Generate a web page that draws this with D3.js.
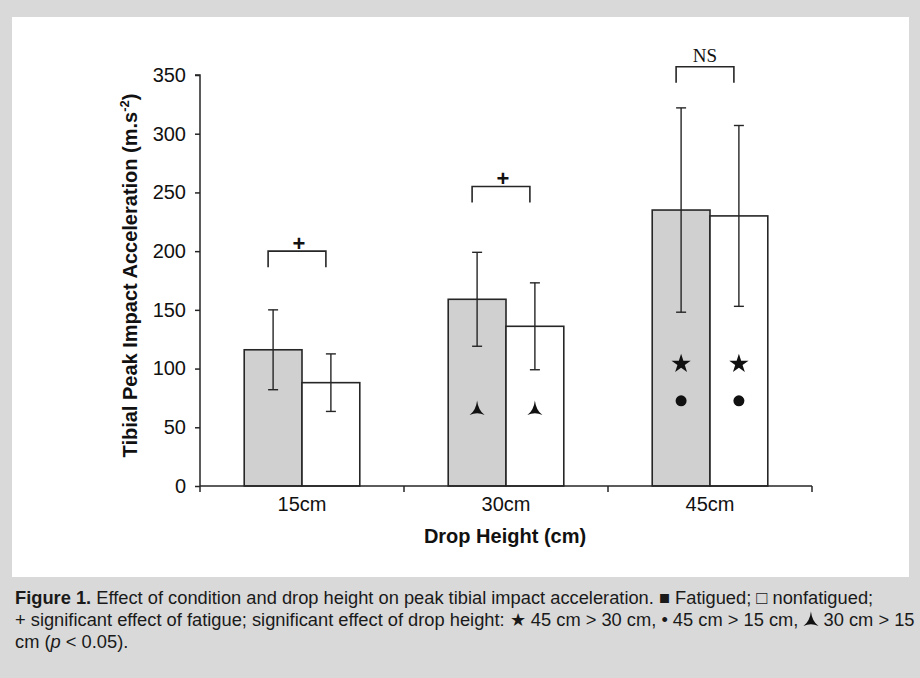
<!DOCTYPE html>
<html>
<head>
<meta charset="utf-8">
<script src="https://cdn.jsdelivr.net/npm/d3@7"></script>
<style>
  html, body { margin: 0; padding: 0; background: #d9d9d9; }
  svg { display: block; }
</style>
</head>
<body>
<svg id="chart" width="920" height="678"></svg>
<script>
// ---- data ----
const categories = ["15cm", "30cm", "45cm"];
const conditions = ["Fatigued", "Nonfatigued"];
const fatiguedMeans = [116, 159, 235];
const fatiguedSD = [34, 40, 87];
const nonfatiguedMeans = [88, 136, 230];
const nonfatiguedSD = [24.5, 37, 77];
const yTicks = [0, 50, 100, 150, 200, 250, 300, 350];
const bracketLabels = ["+", "+", "NS"];
const bracketValues = [200, 255, 357];
// significance markers inside bars: [category, symbol, value]
const markerCategories = ["30cm", "45cm", "45cm"];
const markerSymbols = ["wye", "star", "dot"];
const markerValues = [66, 104, 72.5];

const xTitle = "Drop Height (cm)";
const yTitle = "Tibial Peak Impact Acceleration (m.s";
const captionLine1a = "Figure 1.";
const captionLine1b = "Effect of condition and drop height on peak tibial impact acceleration. \u25A0 Fatigued; \u25A1 nonfatigued;";
const captionLine2a = "+ significant effect of fatigue; significant effect of drop height: \u2605 45 cm > 30 cm, \u2022 45 cm > 15 cm,";
const captionLine2b = "30 cm > 15";
const captionLine3 = ["cm (", "p", " < 0.05)."];

// ---- layout ----
const svg = d3.select("#chart");
const FONT = "'Liberation Sans', Arial, Helvetica, sans-serif";
const pLeft = 200, pRight = 812, pTop = 75, pBottom = 486;

svg.append("rect").attr("x", 0).attr("y", 0).attr("width", 920).attr("height", 678).attr("fill", "#d9d9d9");
svg.append("rect").attr("x", 12).attr("y", 17).attr("width", 897).attr("height", 560).attr("fill", "#ffffff");

const x0 = d3.scaleBand().domain(categories).range([pLeft, pRight]).paddingInner(0).paddingOuter(0);
const x1 = d3.scaleBand().domain(conditions).range([0, x0.bandwidth()]).paddingInner(0).paddingOuter(0.765);
const y = d3.scaleLinear().domain([0, 350]).range([pBottom, pTop]);

const rows = categories.map((c, i) => ({
  cat: c,
  vals: [
    { cond: "Fatigued", mean: fatiguedMeans[i], sd: fatiguedSD[i] },
    { cond: "Nonfatigued", mean: nonfatiguedMeans[i], sd: nonfatiguedSD[i] }
  ]
}));
const fillColor = { Fatigued: "#d0d0d0", Nonfatigued: "#ffffff" };
const stroke = "#262626";

const g = svg.append("g");
const groups = g.selectAll("g.grp").data(rows).join("g")
  .attr("class", "grp")
  .attr("transform", d => `translate(${x0(d.cat)},0)`);

groups.selectAll("rect").data(d => d.vals).join("rect")
  .attr("x", d => x1(d.cond))
  .attr("y", d => y(d.mean))
  .attr("width", x1.bandwidth())
  .attr("height", d => y(0) - y(d.mean))
  .attr("fill", d => fillColor[d.cond])
  .attr("stroke", stroke)
  .attr("stroke-width", 1.6);

// error bars
const cap = 5;
const eb = groups.selectAll("g.eb").data(d => d.vals).join("g").attr("class", "eb");
eb.append("line")
  .attr("x1", d => x1(d.cond) + x1.bandwidth() / 2)
  .attr("x2", d => x1(d.cond) + x1.bandwidth() / 2)
  .attr("y1", d => y(d.mean + d.sd))
  .attr("y2", d => y(d.mean - d.sd))
  .attr("stroke", stroke).attr("stroke-width", 1.4);
eb.append("line")
  .attr("x1", d => x1(d.cond) + x1.bandwidth() / 2 - cap)
  .attr("x2", d => x1(d.cond) + x1.bandwidth() / 2 + cap)
  .attr("y1", d => y(d.mean + d.sd)).attr("y2", d => y(d.mean + d.sd))
  .attr("stroke", stroke).attr("stroke-width", 1.4);
eb.append("line")
  .attr("x1", d => x1(d.cond) + x1.bandwidth() / 2 - cap)
  .attr("x2", d => x1(d.cond) + x1.bandwidth() / 2 + cap)
  .attr("y1", d => y(d.mean - d.sd)).attr("y2", d => y(d.mean - d.sd))
  .attr("stroke", stroke).attr("stroke-width", 1.4);

// markers
const wyePath = "M0,-8 Q1.2,2 7.5,6.5 Q0,3.2 -7.5,6.5 Q-1.2,2 0,-8 Z";
markerCategories.forEach((c, i) => {
  conditions.forEach(cond => {
    const cx = x0(c) + x1(cond) + x1.bandwidth() / 2;
    const cy = y(markerValues[i]);
    const s = markerSymbols[i];
    if (s === "wye") {
      g.append("path").attr("d", wyePath).attr("transform", `translate(${cx},${cy})`).attr("fill", "#111");
    } else if (s === "star") {
      g.append("path").attr("d", d3.symbol(d3.symbolStar, 115)()).attr("transform", `translate(${cx},${cy})`).attr("fill", "#111");
    } else {
      g.append("circle").attr("cx", cx).attr("cy", cy).attr("r", 5.5).attr("fill", "#111");
    }
  });
});

// brackets
categories.forEach((c, i) => {
  const bxa = x0(c) + x1("Fatigued") + x1.bandwidth() / 2 - 5;
  const bxb = x0(c) + x1("Nonfatigued") + x1.bandwidth() / 2 - 5;
  const byt = y(bracketValues[i]);
  g.append("path")
    .attr("d", `M${bxa},${byt + 16} L${bxa},${byt} L${bxb},${byt} L${bxb},${byt + 16}`)
    .attr("fill", "none").attr("stroke", stroke).attr("stroke-width", 1.6);
  const isNS = bracketLabels[i] === "NS";
  g.append("text")
    .attr("x", (bxa + bxb) / 2 + (isNS ? 0 : 2))
    .attr("y", isNS ? byt - 5 : byt - 0.5)
    .attr("text-anchor", "middle")
    .attr("font-family", isNS ? "'Liberation Serif', 'Times New Roman', serif" : FONT)
    .attr("font-size", isNS ? 19 : 22)
    .attr("font-weight", isNS ? "normal" : "bold")
    .attr("fill", "#111")
    .text(bracketLabels[i]);
});

// axes
const yAxis = d3.axisLeft(y).tickValues(yTicks).tickSize(5).tickPadding(9).tickFormat(d3.format("d"));
const yAxG = svg.append("g").attr("transform", `translate(${pLeft},0)`).call(yAxis);
yAxG.select(".domain").attr("d", `M-5,${pTop}H0V${pBottom}`).attr("stroke", stroke).attr("stroke-width", 1.5);
yAxG.selectAll(".tick line").attr("stroke", stroke).attr("stroke-width", 1.5);
yAxG.selectAll(".tick text").attr("font-family", FONT).attr("font-size", 20).attr("fill", "#111");

const xAxis = d3.axisBottom(x0).tickSize(0).tickPadding(11);
const xAxG = svg.append("g").attr("transform", `translate(0,${pBottom})`).call(xAxis);
xAxG.select(".domain").attr("stroke", stroke).attr("stroke-width", 1.5).attr("d", `M${pLeft},0H${pRight}`);
xAxG.selectAll(".tick text").attr("font-family", FONT).attr("font-size", 20).attr("fill", "#111");
// boundary ticks between categories
const boundaries = categories.map(c => x0(c)).concat([x0.range()[1]]);
xAxG.selectAll("line.bt").data(boundaries).join("line").attr("class", "bt")
  .attr("x1", d => d).attr("x2", d => d).attr("y1", 0).attr("y2", 6)
  .attr("stroke", stroke).attr("stroke-width", 1.5);

// axis titles
svg.append("text")
  .attr("x", (pLeft + pRight) / 2 - 1).attr("y", 543)
  .attr("text-anchor", "middle").attr("font-family", FONT).attr("font-size", 20).attr("font-weight", "bold").attr("fill", "#111")
  .text(xTitle);

const yTitleText = svg.append("text")
  .attr("transform", `translate(137,${(pTop + pBottom) / 2 - 5}) rotate(-90)`)
  .attr("text-anchor", "middle").attr("font-family", FONT).attr("font-size", 20).attr("font-weight", "bold").attr("fill", "#111");
yTitleText.append("tspan").text(yTitle);
yTitleText.append("tspan").attr("font-size", 13).attr("dy", -8).text("-2");
yTitleText.append("tspan").attr("dy", 8).text(")");

// caption
const capSize = 18.3;
const c1 = svg.append("text").attr("x", 15).attr("y", 604).attr("font-family", FONT).attr("font-size", capSize).attr("fill", "#1a1a1a")
  .attr("xml:space", "preserve").style("white-space", "pre");
c1.append("tspan").attr("font-weight", "bold").text(captionLine1a);
c1.append("tspan").text(" " + captionLine1b);

const c2a = svg.append("text").attr("x", 15).attr("y", 626).attr("font-family", FONT).attr("font-size", capSize).attr("fill", "#1a1a1a").text(captionLine2a);
const w2 = c2a.node().getComputedTextLength();
const spaceW = capSize * 0.278;
const wyeCx = 15 + w2 + spaceW + 7.5;
svg.append("path").attr("d", wyePath).attr("fill", "#111")
  .attr("transform", `translate(${wyeCx},${626 - 6.5})`);
svg.append("text").attr("x", wyeCx + 7.5 + spaceW).attr("y", 626).attr("font-family", FONT).attr("font-size", capSize).attr("fill", "#1a1a1a").text(captionLine2b);

const c3 = svg.append("text").attr("x", 15).attr("y", 648).attr("font-family", FONT).attr("font-size", capSize).attr("fill", "#1a1a1a")
  .style("white-space", "pre");
c3.append("tspan").text(captionLine3[0]);
c3.append("tspan").attr("font-style", "italic").text(captionLine3[1]);
c3.append("tspan").text(captionLine3[2]);
</script>
</body>
</html>
